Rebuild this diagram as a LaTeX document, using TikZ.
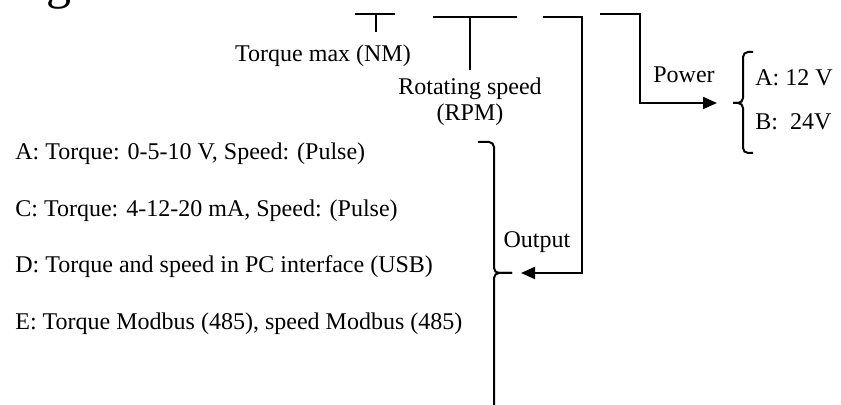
\documentclass[tikz,border=0pt]{standalone}
\usepackage{fontspec}
\setmainfont{Liberation Serif}
\usetikzlibrary{arrows.meta, positioning, calc}

\begin{document}
\begin{tikzpicture}[
  x=0.5pt, y=-0.5pt,
  every node/.style={font=\fontsize{12}{13}\selectfont, inner sep=0pt},
  ln/.style ={line width=1pt},
  arr/.style={ln, -{Triangle[length=7pt, width=6pt]}},
  brc/.style={ln, rounded corners=2.5pt},
  opt/.style={anchor=west}
]
\useasboundingbox (0,0) rectangle (841,405);
\clip (0,0) rectangle (841,405);

%% title remnant
\node[font=\fontsize{25}{30}\selectfont, anchor=base west] (ttl) at (46,-1) {g};

%% code segments
\coordinate (s1a) at (355,14);  \coordinate (s1b) at (395,14);
\coordinate (s2a) at (433,17);  \coordinate (s2b) at (517,17);
\coordinate (s3a) at (543,17);  \coordinate (s3b) at (582,17);
\coordinate (s4a) at (600,14);  \coordinate (s4b) at (640,14);
\coordinate (tqt) at (376,14);  \coordinate (tqb) at (376,32);
\coordinate (spt) at (470,17);  \coordinate (spb) at (470,70);
\coordinate (outtip) at (521,273);
\coordinate (pwtip)  at (717,103);

\foreach \a/\b in {s1a/s1b,s2a/s2b,tqt/tqb,spt/spb}
  \draw[ln] (\a)--(\b);
\draw[arr] (s3a) -- (s3b) |- (outtip);
\draw[arr] (s4a) -- (s4b) |- (pwtip);

%% labels
\node (tqlab) at (323,56) {Torque max (NM)};
\node[anchor=north, align=center] (splab) at (470,77) {Rotating speed\\(RPM)};
\node (outlab) at (537,242) {Output};
\node (pwlab) at (684,75) {Power};

%% output options
\node[opt] (oa) at (15,154) {A: Torque: 0-5-10 V, Speed: (Pulse)};
\node[opt] (oc) at (15,211) {C: Torque: 4-12-20 mA, Speed: (Pulse)};
\node[opt] (od) at (15,267) {D: Torque and speed in PC interface (USB)};
\node[opt] (oe) at (15,324) {E: Torque Modbus (485), speed Modbus (485)};
\coordinate (obt) at (478,142);
\coordinate (obm) at (494,273);
\coordinate (obk) at (512,273);
\coordinate (obb) at (478,412);
\draw[brc] (obt) -| (obm) -- (obk);
\draw[brc] (obk) -- (obm) |- (obb);

%% power options
\node[opt] (pa) at (755,78)  {A: 12 V};
\node[opt] (pb) at (755,122) {B:~~24V};
\coordinate (pbt) at (753,52);
\coordinate (pbm) at (743,103);
\coordinate (pbk) at (733,103);
\coordinate (pbb) at (753,153);
\draw[brc] (pbt) -| (pbm) -- (pbk);
\draw[brc] (pbk) -- (pbm) |- (pbb);
\end{tikzpicture}
\end{document}
